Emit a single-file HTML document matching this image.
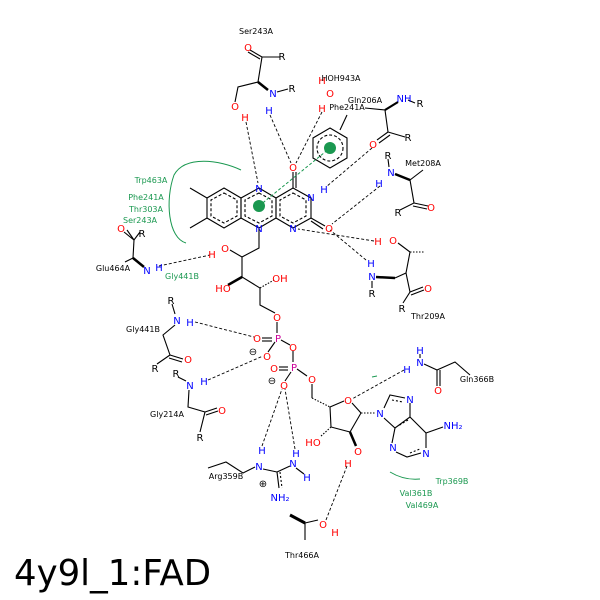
<!DOCTYPE html>
<html><head><meta charset="utf-8"><style>
html,body{margin:0;padding:0;background:#fff}
svg{display:block}
text{font-family:"DejaVu Sans","Liberation Sans",sans-serif;font-size:10px}
.l{font-size:8px;fill:#000}
.g{font-size:8px;fill:#1a9850}
.b{fill:#0000ff}.r{fill:#ff0000}.m{fill:#cc0099}
</style></head><body>
<svg width="600" height="600" viewBox="0 0 600 600">
<g stroke="#000" stroke-width="1.1" fill="none">
<polygon points="224,188 241,198 241,218 224,228 207,218 207,198"/>
<polygon points="259,188 276,198 276,218 259,228 241,218 241,198"/>
<polygon points="293,188 311,198 311,218 293,228 276,218 276,198"/>
<polygon points="224,193 237,200 237,216 224,223 211,216 211,200" stroke-dasharray="3,2"/>
<polygon points="259,193 272,200 272,216 259,223 245,216 245,200" stroke-dasharray="3,2"/>
<polygon points="293,193 306,200 306,216 293,223 280,216 280,200" stroke-dasharray="3,2"/>
<line x1="207" y1="198" x2="190" y2="188"/><line x1="207" y1="218" x2="190" y2="228"/>
<line x1="293" y1="188" x2="293" y2="172"/><line x1="296" y1="188" x2="296" y2="172"/>
<line x1="311" y1="218" x2="325" y2="226"/><line x1="311" y1="221" x2="323" y2="229"/>
<polyline points="259,228 259,248 242,257 242,277 260,288 260,305 275,313"/>
<line x1="242" y1="257" x2="230" y2="250"/>
<line x1="242" y1="277" x2="228" y2="285" stroke-width="2.5"/>
<line x1="260" y1="288" x2="274" y2="280" stroke-dasharray="1.5,1.5"/>
<line x1="277" y1="322" x2="277" y2="333"/>
<line x1="272" y1="338" x2="262" y2="338"/><line x1="272" y1="341" x2="262" y2="341"/>
<line x1="275" y1="342" x2="268" y2="352"/>
<line x1="281" y1="340" x2="290" y2="345"/>
<line x1="293" y1="351" x2="293" y2="362"/>
<line x1="288" y1="367" x2="279" y2="367"/><line x1="288" y1="370" x2="279" y2="370"/>
<line x1="291" y1="372" x2="285" y2="381"/>
<line x1="297" y1="369" x2="307" y2="376"/>
<polyline points="312,384 312,398"/>
<line x1="312" y1="398" x2="330" y2="407" stroke-dasharray="1.5,1.5"/>
<polyline points="330,407 344,401"/><polyline points="352,403 361,413 350,432 331,427 330,407"/>
<line x1="331" y1="427" x2="320" y2="437" stroke-dasharray="1.5,1.5"/>
<line x1="350" y1="432" x2="356" y2="446" stroke-width="2.5"/>
<line x1="361" y1="413" x2="376" y2="413" stroke-dasharray="1.5,1.5"/>
<polyline points="384,408 390,395 405,398"/><polyline points="410,403 410,417 395,428 384,418"/>
<polyline points="395,428 392,443"/><polyline points="396,452 407,457 421,453"/><polyline points="426,448 426,433 410,417"/>
<line x1="426" y1="433" x2="443" y2="427"/>
<line x1="392" y1="400" x2="403" y2="402" stroke-dasharray="2,2"/>
<line x1="408" y1="420" x2="398" y2="426" stroke-dasharray="2,2"/>
<line x1="410" y1="453" x2="420" y2="449" stroke-dasharray="2,2"/>
<polyline points="280,57 262,57 258,82 238,87 235,102"/>
<line x1="262" y1="57" x2="250" y2="50"/><line x1="260" y1="59" x2="248" y2="52"/>
<line x1="258" y1="82" x2="268" y2="90" stroke-width="2.5"/>
<line x1="277" y1="92" x2="288" y2="89"/>
<polygon points="330,128 347,138 347,158 330,168 313,158 313,138"/>
<circle cx="330" cy="148" r="13" stroke-dasharray="3,2"/>
<line x1="340" y1="130" x2="347" y2="115"/>
<polyline points="365,108 385,110 388,132 405,137"/>
<line x1="385" y1="110" x2="398" y2="102" stroke-width="2.2"/>
<line x1="408" y1="100" x2="415" y2="103"/>
<line x1="388" y1="132" x2="377" y2="140"/><line x1="390" y1="135" x2="379" y2="143"/>
<line x1="388" y1="159" x2="389" y2="167"/>
<line x1="395" y1="174" x2="410" y2="180" stroke-width="2.5"/>
<polyline points="410,180 423,170"/>
<polyline points="410,180 414,203 400,210"/>
<line x1="414" y1="203" x2="428" y2="206"/><line x1="413" y1="206" x2="427" y2="209"/>
<polyline points="398,243 410,252 406,273 395,278"/>
<line x1="410" y1="252" x2="425" y2="252" stroke-dasharray="1.5,1.5"/>
<line x1="376" y1="277" x2="395" y2="278" stroke-width="2.5"/>
<line x1="372" y1="281" x2="372" y2="288"/>
<polyline points="406,273 410,292 403,303"/>
<line x1="410" y1="292" x2="423" y2="287"/><line x1="411" y1="295" x2="424" y2="290"/>
<polyline points="140,232 134,240 124,232"/>
<line x1="134" y1="240" x2="127" y2="230"/>
<polyline points="134,240 133,258"/>
<line x1="133" y1="258" x2="144" y2="267" stroke-width="2.5"/>
<line x1="133" y1="258" x2="125" y2="262"/>
<line x1="172" y1="304" x2="175" y2="314"/>
<polyline points="175,325 163,335 170,355 157,364"/>
<line x1="170" y1="355" x2="183" y2="359"/><line x1="169" y1="358" x2="182" y2="362"/>
<line x1="178" y1="377" x2="186" y2="381"/>
<polyline points="189,390 188,407 205,412 200,432"/>
<line x1="205" y1="412" x2="217" y2="408"/><line x1="206" y1="415" x2="218" y2="411"/>
<polyline points="208,468 226,462 243,473 255,467"/>
<line x1="263" y1="469" x2="277" y2="472"/><line x1="277" y1="472" x2="290" y2="466"/>
<line x1="277" y1="472" x2="279" y2="488"/><line x1="280" y1="472" x2="282" y2="488" stroke-dasharray="2,2"/>
<line x1="296" y1="468" x2="304" y2="474"/>
<line x1="290" y1="515" x2="305" y2="523" stroke-width="3"/>
<polyline points="305,523 318,520"/><polyline points="305,523 305,540"/>
<line x1="420" y1="354" x2="420" y2="358"/>
<polyline points="424,364 437,370 455,362 470,375"/>
<line x1="437" y1="370" x2="437" y2="386"/><line x1="440" y1="370" x2="440" y2="386"/>
</g>
<g stroke="#000" stroke-width="0.9" stroke-dasharray="3,2" fill="none">
<line x1="246" y1="122" x2="258" y2="183"/>
<line x1="270" y1="115" x2="291" y2="163"/>
<line x1="322" y1="112" x2="296" y2="163"/>
<line x1="372" y1="148" x2="326" y2="187"/>
<line x1="380" y1="186" x2="332" y2="224"/>
<line x1="374" y1="241" x2="298" y2="229"/>
<line x1="366" y1="260" x2="330" y2="230"/>
<line x1="159" y1="266" x2="210" y2="255"/>
<line x1="195" y1="322" x2="254" y2="337"/>
<line x1="208" y1="380" x2="263" y2="356"/>
<line x1="262" y1="446" x2="282" y2="389"/>
<line x1="295" y1="449" x2="285" y2="389"/>
<line x1="404" y1="370" x2="352" y2="399"/>
<line x1="326" y1="520" x2="347" y2="466"/>
</g>
<line x1="259" y1="206" x2="330" y2="148" stroke="#1a9850" stroke-width="1" stroke-dasharray="3,2"/>
<circle cx="259" cy="206" r="6" fill="#1a9850"/><circle cx="330" cy="148" r="6" fill="#1a9850"/>
<g stroke="#1a9850" stroke-width="1" fill="none">
<path d="M241,170 C220,160 185,155 174,175 C165,200 168,238 186,243"/>
<path d="M390,472 C400,478 410,480 420,479"/>
<line x1="372" y1="377" x2="377" y2="376"/>
</g>
<g text-anchor="middle">
<text x="259" y="192" class="b">N</text><text x="259" y="232" class="b">N</text>
<text x="293" y="232" class="b">N</text><text x="311" y="201" class="b">N</text><text x="324" y="193" class="b">H</text>
<text x="293" y="171" class="r">O</text><text x="329" y="232" class="r">O</text>
<text x="225" y="252" class="r">O</text><text x="212" y="258" class="r">H</text>
<text x="223" y="292" class="r">HO</text><text x="280" y="282" class="r">OH</text>
<text x="277" y="321" class="r">O</text><text x="278" y="342" class="m">P</text>
<text x="257" y="342" class="r">O</text><text x="267" y="360" class="r">O</text><text x="293" y="351" class="r">O</text>
<text x="294" y="371" class="m">P</text><text x="274" y="372" class="r">O</text><text x="284" y="389" class="r">O</text><text x="312" y="383" class="r">O</text>
<text x="253" y="355">⊖</text><text x="272" y="384">⊖</text>
<text x="348" y="404" class="r">O</text><text x="313" y="446" class="r">HO</text><text x="358" y="455" class="r">O</text><text x="348" y="467" class="r">H</text>
<text x="380" y="417" class="b">N</text><text x="410" y="403" class="b">N</text><text x="393" y="451" class="b">N</text><text x="426" y="457" class="b">N</text>
<text x="453" y="429" class="b">NH₂</text>
<text x="248" y="51" class="r">O</text><text x="282" y="60">R</text><text x="273" y="97" class="b">N</text><text x="269" y="114" class="b">H</text><text x="292" y="92">R</text>
<text x="235" y="110" class="r">O</text><text x="245" y="121" class="r">H</text>
<text x="322" y="84" class="r">H</text><text x="330" y="97" class="r">O</text><text x="322" y="112" class="r">H</text>
<text x="404" y="102" class="b">NH</text><text x="420" y="107">R</text><text x="373" y="148" class="r">O</text><text x="408" y="141">R</text>
<text x="388" y="159">R</text><text x="391" y="176" class="b">N</text><text x="379" y="187" class="b">H</text><text x="431" y="211" class="r">O</text><text x="398" y="216">R</text>
<text x="378" y="245" class="r">H</text><text x="393" y="244" class="r">O</text><text x="371" y="267" class="b">H</text><text x="372" y="280" class="b">N</text><text x="372" y="297">R</text><text x="428" y="292" class="r">O</text><text x="402" y="312">R</text>
<text x="121" y="232" class="r">O</text><text x="142" y="237">R</text><text x="147" y="274" class="b">N</text><text x="159" y="271" class="b">H</text>
<text x="171" y="304">R</text><text x="177" y="324" class="b">N</text><text x="190" y="326" class="b">H</text><text x="188" y="363" class="r">O</text><text x="155" y="372">R</text>
<text x="176" y="377">R</text><text x="190" y="389" class="b">N</text><text x="204" y="385" class="b">H</text><text x="222" y="414" class="r">O</text><text x="200" y="441">R</text>
<text x="262" y="454" class="b">H</text><text x="259" y="470" class="b">N</text><text x="296" y="457" class="b">H</text><text x="293" y="467" class="b">N</text><text x="307" y="481" class="b">H</text>
<text x="280" y="501" class="b">NH₂</text><text x="263" y="487">⊕</text>
<text x="323" y="528" class="r">O</text><text x="335" y="536" class="r">H</text>
<text x="420" y="354" class="b">H</text><text x="420" y="366" class="b">N</text><text x="407" y="373" class="b">H</text><text x="438" y="394" class="r">O</text>
</g>
<g text-anchor="middle">
<text x="256" y="34" class="l">Ser243A</text><text x="341" y="81" class="l">HOH943A</text>
<text x="365" y="103" class="l">Gln206A</text><text x="347" y="110" class="l">Phe241A</text>
<text x="423" y="166" class="l">Met208A</text><text x="428" y="319" class="l">Thr209A</text>
<text x="113" y="271" class="l">Glu464A</text><text x="143" y="332" class="l">Gly441B</text><text x="167" y="417" class="l">Gly214A</text>
<text x="477" y="382" class="l">Gln366B</text><text x="226" y="479" class="l">Arg359B</text><text x="302" y="558" class="l">Thr466A</text>
<text x="151" y="183" class="g">Trp463A</text><text x="146" y="200" class="g">Phe241A</text><text x="146" y="212" class="g">Thr303A</text><text x="140" y="223" class="g">Ser243A</text>
<text x="182" y="279" class="g">Gly441B</text>
<text x="452" y="484" class="g">Trp369B</text><text x="416" y="496" class="g">Val361B</text><text x="422" y="508" class="g">Val469A</text>
</g>
<text x="14" y="585" style="font-size:35.5px;font-family:'DejaVu Sans',sans-serif">4y9l_1:FAD</text>
</svg>
</body></html>
